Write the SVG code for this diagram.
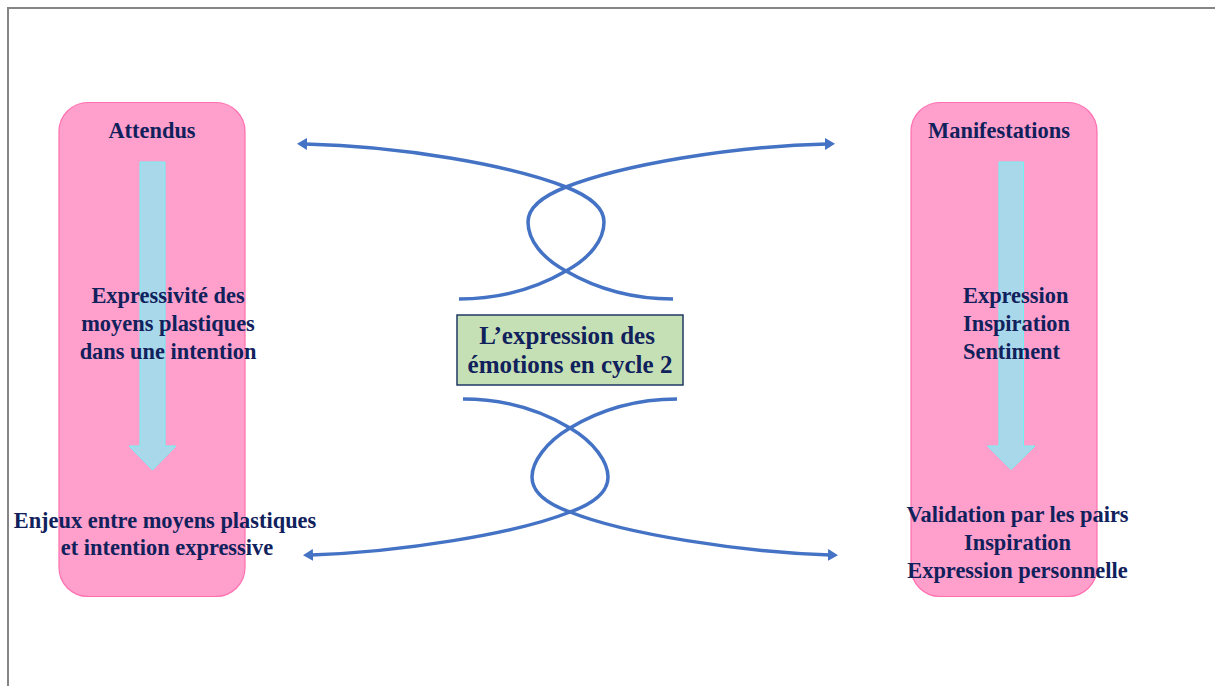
<svg xmlns="http://www.w3.org/2000/svg" width="1215" height="686" viewBox="0 0 1215 686">
<defs>
<style>
.panel{fill:#ff9fcb;stroke:#ff6fb0;stroke-width:1.2}
.down{fill:#a8d8ea;stroke:#70f4f4;stroke-width:1}
.t{font-family:"Liberation Serif","Times New Roman",serif;font-weight:bold;fill:#10215c;font-size:22.4px}
.c{text-anchor:middle}
.big{font-size:25px}
.conn{fill:none;stroke:#4472c4;stroke-width:3.5;marker-end:url(#ah)}
</style>
<marker id="ah" viewBox="0 0 10 12" markerWidth="10" markerHeight="12" refX="2" refY="6" orient="auto" markerUnits="userSpaceOnUse">
<path d="M0,0 L10,6 L0,12 z" fill="#4472c4"/>
</marker>
</defs>
<rect x="8" y="8" width="1220" height="700" fill="#ffffff" stroke="#858585" stroke-width="2"/>

<g id="node-attendus">
<rect class="panel" x="59" y="102.5" width="186" height="494" rx="29" ry="29"/>
<path class="down" d="M140,162 L165,162 L165,446 L176,446 L152.5,470 L129,446 L140,446 z"/>
<text class="t c" x="152" y="138">Attendus</text>
<text class="t c" x="168" y="303">Expressivité des</text>
<text class="t c" x="168" y="331">moyens plastiques</text>
<text class="t c" x="168" y="359">dans une intention</text>
<text class="t c" x="165" y="528">Enjeux entre moyens plastiques</text>
<text class="t c" x="167" y="555">et intention expressive</text>
</g>

<g id="node-manifestations">
<rect class="panel" x="911" y="102.5" width="186" height="494" rx="29" ry="29"/>
<path class="down" d="M999,162 L1023.5,162 L1023.5,446 L1035,446 L1011,469.5 L987.5,446 L999,446 z"/>
<text class="t c" x="999" y="138">Manifestations</text>
<text class="t" x="963" y="303">Expression</text>
<text class="t" x="963" y="331">Inspiration</text>
<text class="t" x="963" y="359">Sentiment</text>
<text class="t c" x="1017.5" y="521.5">Validation par les pairs</text>
<text class="t c" x="1017.5" y="549.5">Inspiration</text>
<text class="t c" x="1017.5" y="577.5">Expression personnelle</text>
</g>

<g id="node-center">
<rect x="457" y="315" width="226" height="70" fill="#c5e0b4" stroke="#203864" stroke-width="1.5"/>
<text class="t c big" x="567" y="344">L’expression des</text>
<text class="t c big" x="570" y="373">émotions en cycle 2</text>
</g>

<g id="connectors">
<path class="conn" d="M459,299 C500,299 535,289 566,271 C590,258 604,240 604,222 C604,210 594,198 566,187 C510,165 400,146 305,144"/>
<path class="conn" d="M673,299 C632,299 597,289 566,271 C542,258 528,240 528,222 C528,210 538,198 566,187 C622,165 732,146 827,144"/>
<path class="conn" d="M463,399 C505,399 540,410 570,428 C594,442 608,462 608,477 C608,490 598,502 570,512 C515,534 400,552 311,555"/>
<path class="conn" d="M677,399 C635,399 600,410 570,428 C546,442 532,462 532,477 C532,490 542,502 570,512 C625,534 740,552 830,555"/>
</g>
</svg>
